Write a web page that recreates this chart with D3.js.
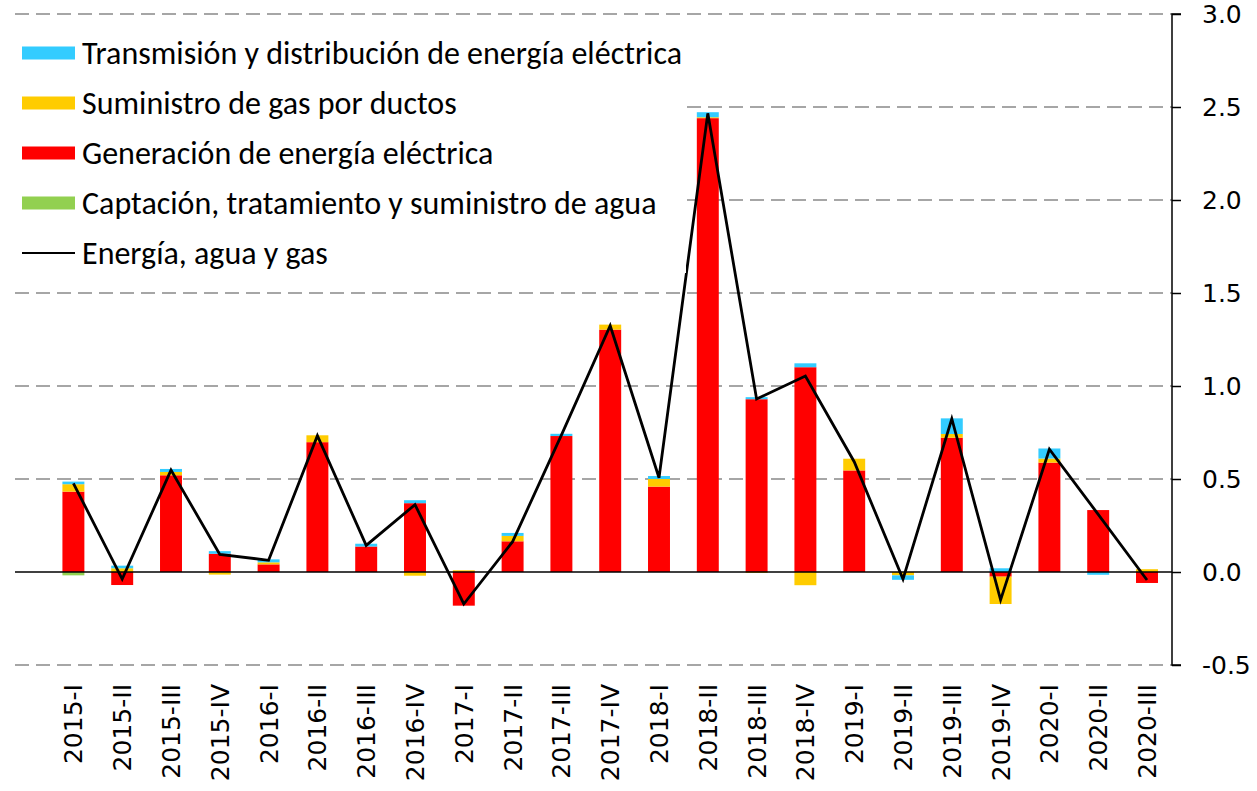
<!DOCTYPE html>
<html>
<head>
<meta charset="utf-8">
<script src="https://cdn.jsdelivr.net/npm/d3@7"></script>
<style>
  body { margin: 0; background: #fff; }
  svg { display: block; }
  .num { font-family: "DejaVu Sans", Verdana, sans-serif; }
  .leg { font-family: Carlito, Calibri, Lato, sans-serif; }
</style>
</head>
<body>
<div id="chart"></div>
<script>
// quarters on the x axis
const quarters = ["2015-I", "2015-II", "2015-III", "2015-IV", "2016-I", "2016-II", "2016-III", "2016-IV",
    "2017-I", "2017-II", "2017-III", "2017-IV", "2018-I", "2018-II", "2018-III", "2018-IV",
    "2019-I", "2019-II", "2019-III", "2019-IV", "2020-I", "2020-II", "2020-III"];

// contributions (percentage points)
const agua = [-0.018, 0, 0, 0, 0, 0, 0, 0, 0, 0, 0, 0, 0, 0, 0, 0, 0, 0, 0, 0, 0, 0, 0];
const generacion = [0.432, -0.07, 0.52, 0.098, 0.041, 0.698, 0.137, 0.37, -0.181, 0.165, 0.731, 1.303,
    0.459, 2.44, 0.929, 1.101, 0.546, 0, 0.722, -0.025, 0.588, 0.333, -0.059];
const gas = [0.04, 0.02, 0.018, -0.014, 0.011, 0.037, 0, -0.02, 0.009, 0.029, 0, 0.027,
    0.041, 0.005, -0.005, -0.071, 0.063, -0.018, 0.02, -0.147, 0.022, 0, 0.015];
const transmision = [0.014, 0.014, 0.016, 0.014, 0.016, 0, 0.015, 0.016, 0, 0.016, 0.012, 0,
    0.016, 0.027, 0.011, 0.021, 0, -0.024, 0.084, 0.02, 0.054, -0.015, 0];
// total line
const total = [0.477, -0.038, 0.548, 0.095, 0.063, 0.733, 0.143, 0.362, -0.172, 0.163, 0.736, 1.324,
    0.507, 2.466, 0.93, 1.054, 0.593, -0.038, 0.824, -0.15, 0.66, 0.31, -0.043];

const yTicks = [-0.5, 0, 0.5, 1, 1.5, 2, 2.5, 3];

const series = [
    {key: "agua", label: "Captación, tratamiento y suministro de agua", color: "#92D050", values: agua},
    {key: "generacion", label: "Generación de energía eléctrica", color: "#FF0000", values: generacion},
    {key: "gas", label: "Suministro de gas por ductos", color: "#FFCC00", values: gas},
    {key: "transmision", label: "Transmisión y distribución de energía eléctrica", color: "#33CCFF", values: transmision}
];

const width = 1257
const height = 791
const axisX = 1172
const gridLeft = 15

const svg = d3.select("#chart").append("svg")
    .attr("width", width)
    .attr("height", height);

// scales
const x = d3.scaleBand().domain(quarters).range([49, 1171.4]).paddingInner(0.55).paddingOuter(0.275);
const y = d3.scaleLinear().domain([-0.5, 3]).range([665, 14]);

// build rows for the stack
const rows = quarters.map((q, i) => {
    let r = {q: q};
    series.forEach(s => r[s.key] = s.values[i]);
    return r;
});
const stacked = d3.stack().keys(series.map(s => s.key)).offset(d3.stackOffsetDiverging)(rows);

// dashed gridlines
svg.append("g")
    .selectAll("line")
    .data(yTicks.filter(d => d !== 0))
    .enter().append("line")
    .attr("x1", gridLeft).attr("x2", axisX)
    .attr("y1", d => y(d)).attr("y2", d => y(d))
    .attr("stroke", "#A6A6A6")
    .attr("stroke-width", 2)
    .attr("stroke-dasharray", "14,7");

// bars
svg.append("g")
    .selectAll("g")
    .data(stacked)
    .enter().append("g")
    .attr("fill", (d, i) => series[i].color)
    .selectAll("rect")
    .data(d => d)
    .enter().append("rect")
    .attr("x", d => x(d.data.q))
    .attr("width", x.bandwidth())
    .attr("y", d => y(Math.max(d[0], d[1])))
    .attr("height", d => Math.abs(y(d[0]) - y(d[1])));

// zero line
svg.append("line")
    .attr("x1", gridLeft).attr("x2", axisX)
    .attr("y1", y(0)).attr("y2", y(0))
    .attr("stroke", "#000")
    .attr("stroke-width", 1.5);

// total line
const line = d3.line()
    .x((d, i) => x(quarters[i]) + x.bandwidth() / 2)
    .y(d => y(d));

svg.append("path")
    .datum(total)
    .attr("d", line)
    .attr("fill", "none")
    .attr("stroke", "#000")
    .attr("stroke-width", 2.8)
    .attr("stroke-linejoin", "miter");

// x labels, rotated
svg.append("g")
    .selectAll("text")
    .data(quarters)
    .enter().append("text")
    .attr("class", "num")
    .attr("transform", d => "translate(" + (x(d) + x.bandwidth() / 2) + ",684) rotate(-90)")
    .attr("text-anchor", "end")
    .attr("dy", "0.36em")
    .style("font-size", "25px")
    .attr("fill", "#000")
    .text(d => d);

// right axis
const yAxis = d3.axisRight(y)
    .tickValues(yTicks)
    .tickSize(9)
    .tickPadding(21)
    .tickFormat(d => d.toFixed(1));

const axisG = svg.append("g")
    .attr("transform", "translate(" + axisX + ",0)")
    .call(yAxis);
axisG.attr("font-family", null).attr("font-size", null);
axisG.select(".domain").attr("stroke", "#000").attr("stroke-width", 1.5).attr("d", "M9," + y(3) + "H0V" + y(-0.5) + "H9");
axisG.selectAll(".tick line").attr("stroke", "#000").attr("stroke-width", 1.5);
axisG.selectAll(".tick text")
    .attr("class", "num")
    .style("font-size", "25px")
    .attr("fill", "#000");

// legend with white background
const legend = svg.append("g");
legend.append("rect")
    .attr("x", gridLeft).attr("y", 30)
    .attr("width", 671).attr("height", 243)
    .attr("fill", "#fff");

const legendItems = series.slice().reverse().concat([{label: "Energía, agua y gas", line: true}]);

legendItems.forEach((item, i) => {
    const cy = 53 + i * 50;
    if (item.line) {
        legend.append("line")
            .attr("x1", 22).attr("x2", 75)
            .attr("y1", cy).attr("y2", cy)
            .attr("stroke", "#000").attr("stroke-width", 2);
    } else {
        legend.append("rect")
            .attr("x", 22).attr("y", cy - 6.5)
            .attr("width", 53).attr("height", 13)
            .attr("fill", item.color);
    }
    legend.append("text")
        .attr("class", "leg")
        .attr("x", 82).attr("y", cy)
        .attr("dy", "0.35em")
        .style("font-size", "32px")
        .attr("fill", "#000")
        .text(item.label);
});
</script>
</body>
</html>
